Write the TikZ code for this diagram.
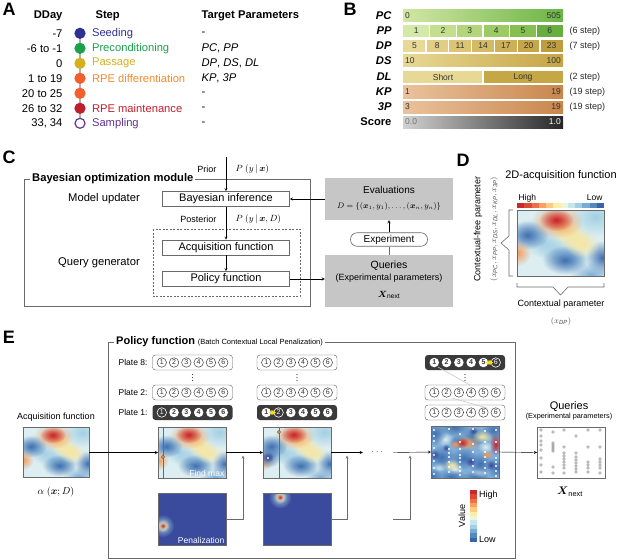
\documentclass[tikz,border=0pt]{standalone}
\usepackage{amsmath}
\usepackage{amssymb}
\usepackage{fontspec}
\setmainfont{Liberation Sans}
\usepackage{tikz}
\usetikzlibrary{positioning,fadings}

\newcommand{\fsz}[1]{\fontsize{#1}{#1}\selectfont}

\definecolor{cseed}{HTML}{2E3192}
\definecolor{cpre}{HTML}{1BA14B}
\definecolor{cpas}{HTML}{D4B01E}
\definecolor{cdif}{HTML}{F58A2E}
\definecolor{cdifd}{HTML}{F15F2D}
\definecolor{cmai}{HTML}{BE1E2D}
\definecolor{csam}{HTML}{5F3492}
\definecolor{linegray}{HTML}{6A6A6A}
\definecolor{boxgray}{HTML}{C6C6C6}
\definecolor{plate}{HTML}{3A3A3A}
\definecolor{hmbase}{HTML}{DCEEF1}
\definecolor{hmlb}{HTML}{A3CFE4}
\definecolor{hmmid}{HTML}{7FAED6}
\definecolor{hmblue}{HTML}{4070B2}
\definecolor{hmdeep}{HTML}{3A4A9C}
\definecolor{hmyel}{HTML}{F7E6A0}
\definecolor{hmora}{HTML}{F29A59}
\definecolor{hmred}{HTML}{C7242B}
% bars of B
\definecolor{pcL}{HTML}{D2E7A4}\definecolor{pcR}{HTML}{6CB445}
\definecolor{pp1}{HTML}{D4E8A7}\definecolor{pp2}{HTML}{C3DF8E}\definecolor{pp3}{HTML}{B2D679}
\definecolor{pp4}{HTML}{9DCB63}\definecolor{pp5}{HTML}{85BF50}\definecolor{pp6}{HTML}{68AE3E}
\definecolor{dp1}{HTML}{E8D996}\definecolor{dp2}{HTML}{E1CE84}\definecolor{dp3}{HTML}{DBC474}
\definecolor{dp4}{HTML}{D4BA65}\definecolor{dp5}{HTML}{CDB057}\definecolor{dp6}{HTML}{C6A649}
\definecolor{dp7}{HTML}{BF9D3D}
\definecolor{dsR}{HTML}{C5A444}
\definecolor{dlS}{HTML}{E7D995}\definecolor{dlL}{HTML}{C5A845}
\definecolor{kpL}{HTML}{EBC29C}\definecolor{kpR}{HTML}{C8864D}
% colour bar, red to blue
\definecolor{rb1}{HTML}{C62A2C}\definecolor{rb2}{HTML}{DC4A36}\definecolor{rb3}{HTML}{EE7047}
\definecolor{rb4}{HTML}{F9A15E}\definecolor{rb5}{HTML}{FDCB80}\definecolor{rb6}{HTML}{FEEDA8}
\definecolor{rb7}{HTML}{EEF6D8}\definecolor{rb8}{HTML}{C6E6EF}\definecolor{rb9}{HTML}{A1CFE3}
\definecolor{rb10}{HTML}{76ADD0}\definecolor{rb11}{HTML}{5489BF}\definecolor{rb12}{HTML}{3A64A8}

\tikzfading[name=blob, inner color=transparent!0, outer color=transparent!100]

\tikzset{
  panel/.style={font=\fsz{18}\bfseries},
  hdr/.style={font=\fsz{11.2}\bfseries},
  txt/.style={font=\fsz{11.2}},
  dot/.style={circle, minimum size=10pt, inner sep=0pt, line width=1.2pt},
  plab/.style={anchor=east, font=\fsz{11.2}\bfseries\itshape},
  bnum/.style={font=\fsz{8.5}, text=black!80, inner sep=1pt},
  snum/.style={anchor=west, font=\fsz{9}, text=black!85},
  cbox/.style={draw=linegray, line width=0.6pt, minimum width=127pt, minimum height=15pt,
    inner sep=0pt, font=\fsz{11}, fill=white},
  gbox/.style={fill=boxgray, minimum width=128pt, inner sep=0pt},
  small/.style={font=\fsz{9}},
  hm/.style={inner sep=0pt, outer sep=0pt},
  wt/.style={text=white, font=\fsz{8.5}, inner sep=1.5pt},
  wplate/.style={draw=black!65, fill=white, rounded corners=3pt, minimum width=80pt,
    minimum height=15pt, inner sep=0pt},
  dplate/.style={fill=plate, rounded corners=3pt, minimum width=80pt,
    minimum height=15pt, inner sep=0pt},
  wnum/.style={circle, draw=black!75, line width=0.5pt, minimum size=9.5pt, inner sep=0pt,
    font=\fsz{7}, text=black!80},
  dnum/.style={circle, fill=white, minimum size=9.5pt, inner sep=0pt, font=\fsz{7}\bfseries,
    text=plate},
  rnum/.style={circle, draw=white, line width=0.6pt, minimum size=9.5pt, inner sep=0pt,
    font=\fsz{7}, text=white},
  yarr/.style={draw=yellow!85!orange, line width=1.1pt, <->},
  % heat maps, drawn in a unit square (y down)
  acq/.pic={
    \fill[hmbase] (0,0) rectangle (1,1);
    \begin{scope}
      \clip (0,0) rectangle (1,1);
      \foreach \x/\y in {0.15/0.35,0.3/0.5,0.45/0.62,0.6/0.72}
        \fill[hmlb, path fading=blob] (\x,\y) ellipse [x radius=0.22, y radius=0.22];
      \fill[hmlb, path fading=blob] (0.9,0.1) ellipse [x radius=0.3, y radius=0.3];
      \fill[hmblue, path fading=blob] (0.12,0.38) ellipse [x radius=0.24, y radius=0.22];
      \fill[hmblue, path fading=blob] (0.55,0.76) ellipse [x radius=0.26, y radius=0.22];
      \fill[hmblue, path fading=blob] (0.98,0.72) ellipse [x radius=0.2, y radius=0.26];
      \fill[hmmid, path fading=blob] (0.85,0.98) ellipse [x radius=0.25, y radius=0.2];
      \foreach \x/\y in {0.55/0.3,0.65/0.42,0.75/0.52}
        \fill[hmyel, path fading=blob] (\x,\y) ellipse [x radius=0.2, y radius=0.2];
      \fill[hmora, path fading=blob] (0.0,0.65) ellipse [x radius=0.16, y radius=0.2];
      \fill[hmora, path fading=blob] (0.46,0.17) ellipse [x radius=0.3, y radius=0.26];
      \fill[hmred, path fading=blob] (0.45,0.15) ellipse [x radius=0.2, y radius=0.17];
    \end{scope}
    \draw[linegray, line width=0.6pt] (0,0) rectangle (1,1);
  },
  pics/pen/.style={code={
    \fill[hmdeep] (0,0) rectangle (1,1);
    \begin{scope}
      \clip (0,0) rectangle (1,1);
      \fill[hmlb, path fading=blob] #1 ellipse [x radius=0.17, y radius=0.22];
      \fill[hmyel, path fading=blob] #1 ellipse [x radius=0.1, y radius=0.13];
      \fill[hmred, path fading=blob] #1 ellipse [x radius=0.05, y radius=0.065];
    \end{scope}
    \draw[linegray, line width=0.6pt] (0,0) rectangle (1,1);
  }},
  mess/.pic={
    \fill[hmmid] (0,0) rectangle (1,1);
    \begin{scope}
      \clip (0,0) rectangle (1,1);
      \foreach \x/\y/\a/\b in {0.2/0.25/0.14/0.14, 0.8/0.4/0.12/0.12, 0.35/0.82/0.12/0.12,
          0.7/0.9/0.12/0.1, 0.12/0.78/0.1/0.1}
        \fill[hmbase, path fading=blob] (\x,\y) ellipse [x radius=\a, y radius=\b];
      \foreach \x/\y/\a/\b in {0.05/0.15/0.18/0.22, 0.35/0.02/0.22/0.18, 0.62/0.2/0.18/0.2,
          0.92/0.08/0.18/0.18, 0.15/0.6/0.22/0.22, 0.48/0.62/0.2/0.22, 0.72/0.72/0.18/0.22,
          0.96/0.8/0.14/0.22, 0.3/0.98/0.22/0.14, 0.65/1.0/0.22/0.14, 0.02/0.95/0.14/0.14,
          0.4/0.3/0.14/0.14}
        \fill[hmblue, path fading=blob] (\x,\y) ellipse [x radius=\a, y radius=\b];
      \foreach \x/\y/\a/\b in {0.58/0.68/0.08/0.1, 0.22/0.42/0.06/0.08, 0.62/0.1/0.07/0.08,
          0.05/0.55/0.08/0.1, 0.88/0.75/0.07/0.1}
        \fill[hmdeep, path fading=blob] (\x,\y) ellipse [x radius=\a, y radius=\b];
      \fill[hmyel, path fading=blob] (0.75,0.2) ellipse [x radius=0.16, y radius=0.12];
      \fill[hmyel, path fading=blob] (0.3,0.75) ellipse [x radius=0.12, y radius=0.12];
      \fill[hmora, path fading=blob] (0.52,0.32) ellipse [x radius=0.2, y radius=0.14];
      \fill[hmred, path fading=blob] (0.46,0.32) ellipse [x radius=0.1, y radius=0.1];
      \fill[hmred, path fading=blob] (0.95,0.35) ellipse [x radius=0.09, y radius=0.22];
      \fill[hmora, path fading=blob] (0.35,0.35) ellipse [x radius=0.08, y radius=0.08];
      \fill[hmora, path fading=blob] (0.82,0.55) ellipse [x radius=0.09, y radius=0.09];
    \end{scope}
    \draw[linegray, line width=0.6pt] (0,0) rectangle (1,1);
  },
}

% one plate of six wells; #4 = well drawn as a ring (0 = white plate)
\newcommand{\platebox}[4]{%
  \ifnum#4=0
    \node[wplate] (#1) at (#2,#3) {};
    \foreach \k in {1,...,6}
      \node[wnum] at ({#2-30.75+12.3*(\k-1)},#3) {\k};
  \else
    \node[dplate] (#1) at (#2,#3) {};
    \foreach \k in {1,...,6}{
      \ifnum\k=#4
        \node[rnum] at ({#2-30.75+12.3*(\k-1)},#3) {\k};
      \else
        \node[dnum] at ({#2-30.75+12.3*(\k-1)},#3) {\k};
      \fi}
  \fi}

\begin{document}
\begin{tikzpicture}[x=1pt,y=-1pt,>=stealth]
\useasboundingbox (0,0) rectangle (617,559);

% A: schedule
\node[panel] (la) at (9,9) {A};
\node[hdr, anchor=east] at (66,16) {DDay};
\node[hdr, anchor=west] at (92,16) {Step};
\node[hdr, anchor=west] at (198,16) {Target Parameters};
\draw[gray!60, line width=2pt] (80,33) -- (80,123);
\foreach \n/\y/\d/\c/\o/\f/\s/\t in {
    1/33.3/-7/cseed/cseed/cseed/Seeding/-,
    2/48.3/-6 to -1/cpre/cpre/cpre/Preconditioning/{\textit{PC}, \textit{PP}},
    3/63.3/0/cpas/cpas/cpas/Passage/{\textit{DP}, \textit{DS}, \textit{DL}},
    4/78.3/1 to 19/cdif/cdifd/cdifd/RPE differentiation/{\textit{KP}, \textit{3P}},
    5/93.3/20 to 25/cdif/cdifd/cdifd/{}/-,
    6/108.3/26 to 32/cmai/cmai/cmai/RPE maintenance/-,
    7/123.3/{33, 34}/csam/csam/white/Sampling/-}{
  \node[txt, anchor=east] (d\n) at (66,\y) {\d};
  \node[dot, draw=\o, fill=\f] (s\n) at (80,\y) {};
  \node[txt, anchor=west, text=\c] at (88.5,\y) {\s};
  \node[txt, anchor=west] at (198,\y) {\t};
}

% B: parameter ranges
\node[panel] (lb) at (350,9) {B};
\foreach \n/\y in {PC/16,PP/31,DP/46,DS/61,DL/77,KP/92,3P/107}
  \node[plab] (b\n) at (395,\y) {\n};
\node[plab, font=\fsz{11.2}\bfseries] (bsc) at (395,122) {Score};
\shade[left color=pcL, right color=pcR] (403,10) rectangle (563,22);
\node[bnum, anchor=west] at (404,16) {0};
\node[bnum, anchor=east] at (562,16) {505};
\foreach \k/\c in {1/pp1,2/pp2,3/pp3,4/pp4,5/pp5,6/pp6}{
  \fill[\c] ({403+160/6*(\k-1)},25) rectangle ({403+160/6*\k},37);
  \node[bnum] at ({403+160/6*(\k-0.5)},31) {\k};
}
\foreach \k in {1,...,5}
  \draw[white, line width=1.5pt] ({403+160/6*\k},25) -- ++(0,12);
\foreach \k/\c/\v in {1/dp1/5,2/dp2/8,3/dp3/11,4/dp4/14,5/dp5/17,6/dp6/20,7/dp7/23}{
  \fill[\c] ({403+160/7*(\k-1)},40) rectangle ({403+160/7*\k},52);
  \node[bnum] at ({403+160/7*(\k-0.5)},46) {\v};
}
\foreach \k in {1,...,6}
  \draw[white, line width=1.5pt] ({403+160/7*\k},40) -- ++(0,12);
\shade[left color=dp1, right color=dsR] (403,55) rectangle (563,67);
\node[bnum, anchor=west] at (404,61) {10};
\node[bnum, anchor=east] at (562,61) {100};
\fill[dlS] (403,71) rectangle (483,83);
\fill[dlL] (483,71) rectangle (563,83);
\draw[white, line width=1.5pt] (483,71) -- (483,83);
\node[bnum] at (443,77) {Short};
\node[bnum] at (523,77) {Long};
\shade[left color=kpL, right color=kpR] (403,86) rectangle (563,98);
\node[bnum, anchor=west] at (404,92) {1};
\node[bnum, anchor=east] at (562,92) {19};
\shade[left color=kpL, right color=kpR] (403,101) rectangle (563,113);
\node[bnum, anchor=west] at (404,107) {3};
\node[bnum, anchor=east] at (562,107) {19};
\shade[left color=black!18, right color=black!85] (403,116) rectangle (563,128);
\node[bnum, anchor=west, text=black!55] at (404,122) {0.0};
\node[bnum, anchor=east, text=white] at (562,122) {1.0};
\foreach \y/\s in {31/6,46/7,77/2,92/19,107/19}
  \node[snum] at (566,\y) {(\s{} step)};

% C: optimisation loop
\node[panel] (lc) at (9,157) {C};
\draw[linegray, line width=0.6pt] (24,179) rectangle (310,306);
\node[hdr, anchor=west, fill=white, inner sep=2pt] at (30,179) {Bayesian optimization module};
\draw[linegray, line width=0.6pt, dash pattern=on 2pt off 1.5pt] (153,229) rectangle (300,296);
\node[cbox] (bi) at (226,199) {Bayesian inference};
\node[cbox] (af) at (226,247.5) {Acquisition function};
\node[cbox] (pf) at (226,279) {Policy function};
\node[txt] at (104,199) {Model updater};
\node[txt] at (99,263) {Query generator};
\coordinate (pr) at (226,157);
\node[small, anchor=east] at (220,169) {Prior};
\node[small, anchor=west] at (232,169) {$P\ (y\,|\,\boldsymbol{x})$};
\node[small, anchor=east] at (220,219) {Posterior};
\node[small, anchor=west] at (232,219) {$P\ (y\,|\,\boldsymbol{x},D)$};
\node[gbox, minimum height=42pt] (ev) at (389,199) {};
\node[font=\fsz{10}] at (389,190) {Evaluations};
\node[font=\fsz{7.8}] at (389,206) {$D=\{(\boldsymbol{x}_1,y_1),\ldots,(\boldsymbol{x}_n,y_n)\}$};
\node[draw=linegray, line width=0.6pt, fill=white, rounded corners=6.5pt, minimum width=77pt,
  minimum height=13.5pt, inner sep=0pt, font=\fsz{10}] (ex) at (389,239.5) {Experiment};
\node[gbox, minimum height=52pt] (qu) at (389,281) {};
\node[font=\fsz{10.5}] at (389,266) {Queries};
\node[font=\fsz{9}] at (389,278) {(Experimental parameters)};
\node[font=\fsz{9.5}] at (389,295) {$\boldsymbol{X}_{\mathrm{next}}$};
\draw[->] (pr) -- (bi);
\draw[->] (bi) -- (af);
\draw[->] (af) -- (pf);
\draw[->] (ev.west |- bi.east) -- (bi.east);
\draw[->] (pf.east) -- (pf.east -| qu.west);
\draw[linegray] (qu.north) -- (ex.south);
\draw[->] (ex.north) -- (ev.south);

% D: 2D acquisition function
\node[panel] (ld) at (463,160) {D};
\node[font=\fsz{11}] at (561,176) {2D-acquisition function};
\node[font=\fsz{8.5}, anchor=west] at (515,198) {High};
\node[font=\fsz{8.5}, anchor=east] at (606,198) {Low};
\foreach \i in {1,...,12}
  \fill[rb\i] ({517+87/12*(\i-1)},203) rectangle ({517+87/12*\i},207.5);
\node[hm, minimum width=87pt, minimum height=66pt] (dm) at (560.5,243) {};
\pic[xscale=87, yscale=66] at (dm.north west) {acq};
\draw[linegray, line width=0.6pt] (513,210) -- (509,210) -- (509,236) -- (501,243)
  -- (509,250) -- (509,276) -- (513,276);
\draw[linegray, line width=0.6pt] (517,283) -- (517,287) -- (553,287) -- (560.5,295)
  -- (568,287) -- (604,287) -- (604,283);
\node[font=\fsz{9}, rotate=90] at (478,229) {Contextual-free parameter};
\node[font=\fsz{8.5}, text=black!70, rotate=90] at (494,229)
  {$\left(x_{\mathit{PC}},x_{\mathit{PP}},x_{\mathit{DS}},x_{\mathit{DL}},x_{\mathit{KP}},x_{\mathit{3P}}\right)$};
\node[font=\fsz{9}] at (561,304) {Contextual parameter};
\node[font=\fsz{8.5}, text=black!70] at (561,321) {$\left(x_{\mathit{DP}}\right)$};

% E: batch penalization
\node[panel] (le) at (9,337) {E};
\draw[linegray, line width=0.6pt] (108,342) rectangle (515,558);
\node[anchor=west, fill=white, inner sep=2pt] at (114,342)
  {{\fsz{11}\bfseries Policy function} {\fsz{7.5}(Batch Contextual Local Penalization)}};
\node[font=\fsz{9}] at (56,417) {Acquisition function};
\node[hm, minimum width=66pt, minimum height=50pt] (a0) at (56,452.5) {};
\pic[xscale=66, yscale=50] at (a0.north west) {acq};
\node[font=\fsz{10}] at (56,492) {$\alpha\ (\boldsymbol{x};D)$};

\foreach \y/\p in {362.5/8,392.5/2,412.5/1}
  \node[font=\fsz{8.5}, anchor=east] at (151,\y) {Plate \p:};
\platebox{c1a}{192.5}{362.5}{0}
\platebox{c1b}{192.5}{392.5}{0}
\platebox{c1c}{192.5}{412.5}{1}
\platebox{c2a}{297}{362.5}{0}
\platebox{c2b}{297}{392.5}{0}
\platebox{c2c}{297}{412.5}{2}
\platebox{c3a}{465}{362.5}{6}
\platebox{c3b}{465}{392.5}{0}
\platebox{c3c}{465}{412.5}{0}
% vertical ellipsis between plates
\foreach \x in {192.5,297,465}
  \foreach \d in {-3,0,3}
    \fill[black!75] (\x,377.5+\d) circle (0.55);
\draw[yarr] (268.8,412.5) -- (276,412.5);
\draw[yarr] (486,362.5) -- (493.2,362.5);
\draw[gray!45, line width=0.6pt] (438,367) -- (470,385);
\draw[gray!45, line width=0.6pt] (452,398) -- (487,408);

% maps
\node[hm, minimum width=68pt, minimum height=51pt] (m1) at (192,452.5) {};
\pic[xscale=68, yscale=51] at (m1.north west) {acq};
\draw[linegray, line width=0.5pt] (163,427) -- (163,478);
\filldraw[fill=hmora, draw=black!70, line width=0.4pt] (163,457) circle (1.6);
\node[wt, anchor=south east] at (m1.south east) {Find max};

\node[hm, minimum width=68pt, minimum height=51pt] (m2) at (297,452.5) {};
\pic[xscale=68, yscale=51] at (m2.north west) {acq};
\begin{scope}
  \clip (263,427) rectangle (331,478);
  \fill[hmblue, path fading=blob] (268,457) ellipse [x radius=13, y radius=11];
  \fill[hmdeep, path fading=blob] (268,457) ellipse [x radius=6, y radius=5];
\end{scope}
\draw[linegray, line width=0.5pt] (279,427) -- (279,478);
\filldraw[fill=hmora, draw=black!70, line width=0.4pt] (279,432) circle (1.6);
\fill[white] (268,458) circle (1.2);

\node[hm, minimum width=68pt, minimum height=52pt] (m3) at (465,452) {};
\pic[xscale=68, yscale=52] at (m3.north west) {mess};
\foreach \x/\ys in {434/{430,436,441,448,455,461,468,474}, 449/{429,449,453,457,462,467,472},
    460/{434,442,449,455,458,462,467,471,475}, 473/{429,444,452,460,466,472},
    485/{431,442,452,457,462,468,473}, 496/{430,442,452,458,462,466,471,476}}
  \foreach \yy in \ys \fill[white] (\x,\yy) circle (1.2);

\node[hm, minimum width=68pt, minimum height=52pt] (p1) at (192,519) {};
\pic[xscale=68, yscale=52] at (p1.north west) {pen={(0.07,0.63)}};
\node[wt, anchor=south east] at (p1.south east) {Penalization};
\node[hm, minimum width=68pt, minimum height=52pt] (p2) at (297,519) {};
\pic[xscale=68, yscale=52] at (p2.north west) {pen={(0.25,0.08)}};

% colour bar
\node[font=\fsz{9}, rotate=90] at (462,516) {Value};
\foreach \i in {1,...,12}
  \fill[rb\i] (470,{490+52/12*(\i-1)}) rectangle (477,{490+52/12*\i});
\node[font=\fsz{9}, anchor=west, inner sep=1pt] at (478,495) {High};
\node[font=\fsz{9}, anchor=west, inner sep=1pt] at (478,539) {Low};

% queries
\node[font=\fsz{11}] at (569,407) {Queries};
\node[font=\fsz{7.3}] at (569,417) {(Experimental parameters)};
\node[hm, draw=linegray, line width=0.6pt, minimum width=68pt, minimum height=51pt] (qx) at (571,452.5) {};
\foreach \x/\ys in {541/{430,436,441,445,450,458,465,472}, 553/{432,443,445,447,449,451,467,473},
    564/{430,447,453,456,459,462,465,468,473}, 576/{436,453,457,460,463,466,469,472},
    588/{430,447,462,465,468,472}, 600/{430,447,459,462,465,468,473}}
  \foreach \yy in \ys \draw[black!55, line width=0.35pt] (\x,\yy) circle (1.3);
\node[font=\fsz{10.5}] at (570,492) {$\boldsymbol{X}_{\mathrm{next}}$};

% connectors
\node[minimum width=30pt, inner sep=0pt, text=black!60] (dd) at (378,452.5) {$\cdots$};
\coordinate (j1) at (243,455.5);
\coordinate (j2) at (347,455.5);
\coordinate (j3) at (410,455.5);
\coordinate (k3) at (393,519);
\draw[->] (a0.east) -- (m1.west);
\draw[->] (m1.east) -- (m2.west);
\draw[->] (m2.east) -- (dd.west);
\draw[->] (dd.east) -- (m3.west);
\draw[->] (m3.east) -- (qx.west);
\draw[->, linegray] (p1.east) -| (j1);
\draw[->, linegray] (p2.east) -| (j2);
\draw[->, linegray] (k3) -| (j3);
\end{tikzpicture}
\end{document}
